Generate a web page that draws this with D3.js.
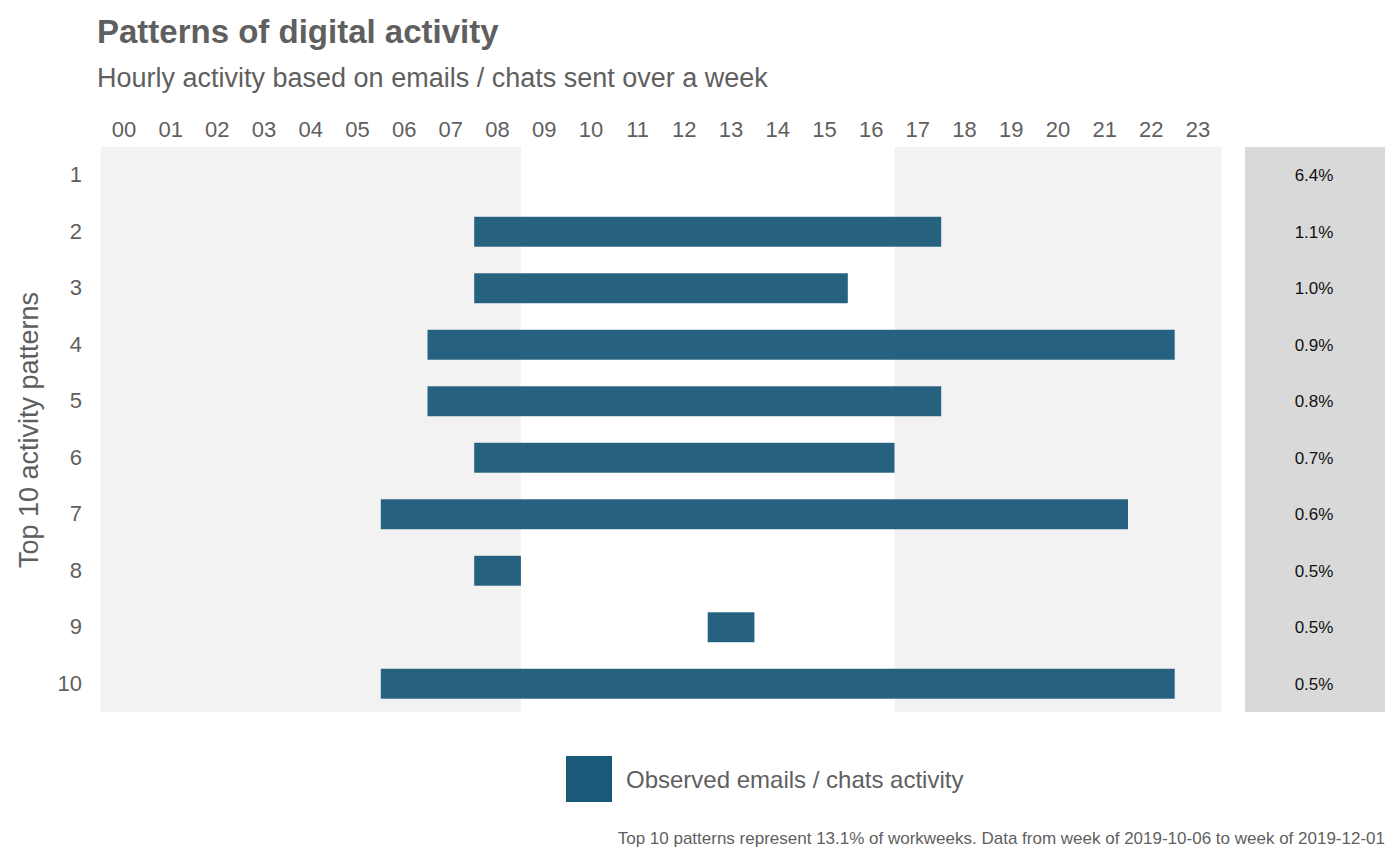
<!DOCTYPE html>
<html><head><meta charset="utf-8">
<script src="https://cdn.jsdelivr.net/npm/d3@7"></script>
<style>body{margin:0;background:#fff}text{font-family:"Liberation Sans",Arial,sans-serif}</style>
</head><body><svg id="chart" width="1400" height="866"></svg>
<script>
const hours = d3.range(24).map(h => String(h).padStart(2, '0'))
const patterns = ['1', '2', '3', '4', '5', '6', '7', '8', '9', '10']
// active hour span per pattern [first, last], null = no activity
const spanStart = [null, 8, 8, 7, 7, 8, 6, 8, 13, 6]
const spanEnd = [null, 17, 15, 22, 17, 16, 21, 8, 13, 22]
const shares = ['6.4%', '1.1%', '1.0%', '0.9%', '0.8%', '0.7%', '0.6%', '0.5%', '0.5%', '0.5%']
const workStart = 9, workEnd = 17

const svg = d3.select('#chart')
const grey = '#5f5f5f', barColor = '#1a5a78'
const pLeft = 100.6, pRight = 1221.4, pTop = 147, pBottom = 712

const x = d3.scaleBand().domain(hours).range([pLeft, pRight])
const y = d3.scaleBand().domain(patterns).range([pTop, pBottom]).paddingInner(0.47).paddingOuter(0.235)

// background panels
svg.append('rect').attr('x', pLeft).attr('y', pTop).attr('width', pRight - pLeft).attr('height', pBottom - pTop).attr('fill', '#f2f2f2')
svg.append('rect').attr('x', x(hours[workStart])).attr('y', pTop)
    .attr('width', x(hours[workEnd]) - x(hours[workStart])).attr('height', pBottom - pTop).attr('fill', '#fff')
svg.append('rect').attr('x', 1245).attr('y', pTop).attr('width', 140).attr('height', pBottom - pTop).attr('fill', '#d9d9d9')

// bars
const rows = patterns.map((p, i) => ({ p, s: spanStart[i], e: spanEnd[i], share: shares[i] }))
svg.selectAll('.bar').data(rows.filter(d => d.s !== null)).join('rect')
    .attr('x', d => x(hours[d.s]))
    .attr('width', d => x(hours[d.e]) + x.bandwidth() - x(hours[d.s]))
    .attr('y', d => y(d.p)).attr('height', y.bandwidth())
    .attr('fill', barColor).attr('fill-opacity', 0.95)

// share labels
svg.selectAll('.share').data(rows).join('text')
    .attr('x', 1314).attr('y', d => y(d.p) + y.bandwidth() / 2).attr('dy', '0.35em')
    .attr('text-anchor', 'middle').attr('font-size', 17).attr('fill', '#111').text(d => d.share)

// axes
const xAxis = svg.append('g').attr('transform', `translate(0,${pTop - 10})`)
    .call(d3.axisTop(x).tickSize(0).tickPadding(0))
xAxis.select('.domain').remove()
xAxis.selectAll('text').attr('font-size', 22).attr('fill', grey).attr('font-family', '"Liberation Sans",Arial,sans-serif')

const yAxis = svg.append('g').attr('transform', `translate(82,0)`)
    .call(d3.axisLeft(y).tickSize(0).tickPadding(0))
yAxis.select('.domain').remove()
yAxis.selectAll('text').attr('font-size', 22).attr('fill', grey).attr('font-family', '"Liberation Sans",Arial,sans-serif')

svg.append('text').attr('transform', 'translate(38,430) rotate(-90)').attr('text-anchor', 'middle')
    .attr('font-size', 27).attr('fill', grey).text('Top 10 activity patterns')

// titles
svg.append('text').attr('x', 97).attr('y', 43).attr('font-size', 33).attr('font-weight', 'bold').attr('fill', grey).text('Patterns of digital activity')
svg.append('text').attr('x', 97).attr('y', 87).attr('font-size', 27).attr('fill', grey).text('Hourly activity based on emails / chats sent over a week')

// legend
svg.append('rect').attr('x', 566).attr('y', 756).attr('width', 46).attr('height', 46).attr('fill', barColor)
svg.append('text').attr('x', 626).attr('y', 788).attr('font-size', 24).attr('fill', grey).text('Observed emails / chats activity')

svg.append('text').attr('x', 1385).attr('y', 844).attr('text-anchor', 'end').attr('font-size', 17).attr('fill', grey)
    .text('Top 10 patterns represent 13.1% of workweeks. Data from week of 2019-10-06 to week of 2019-12-01')
</script></body></html>
